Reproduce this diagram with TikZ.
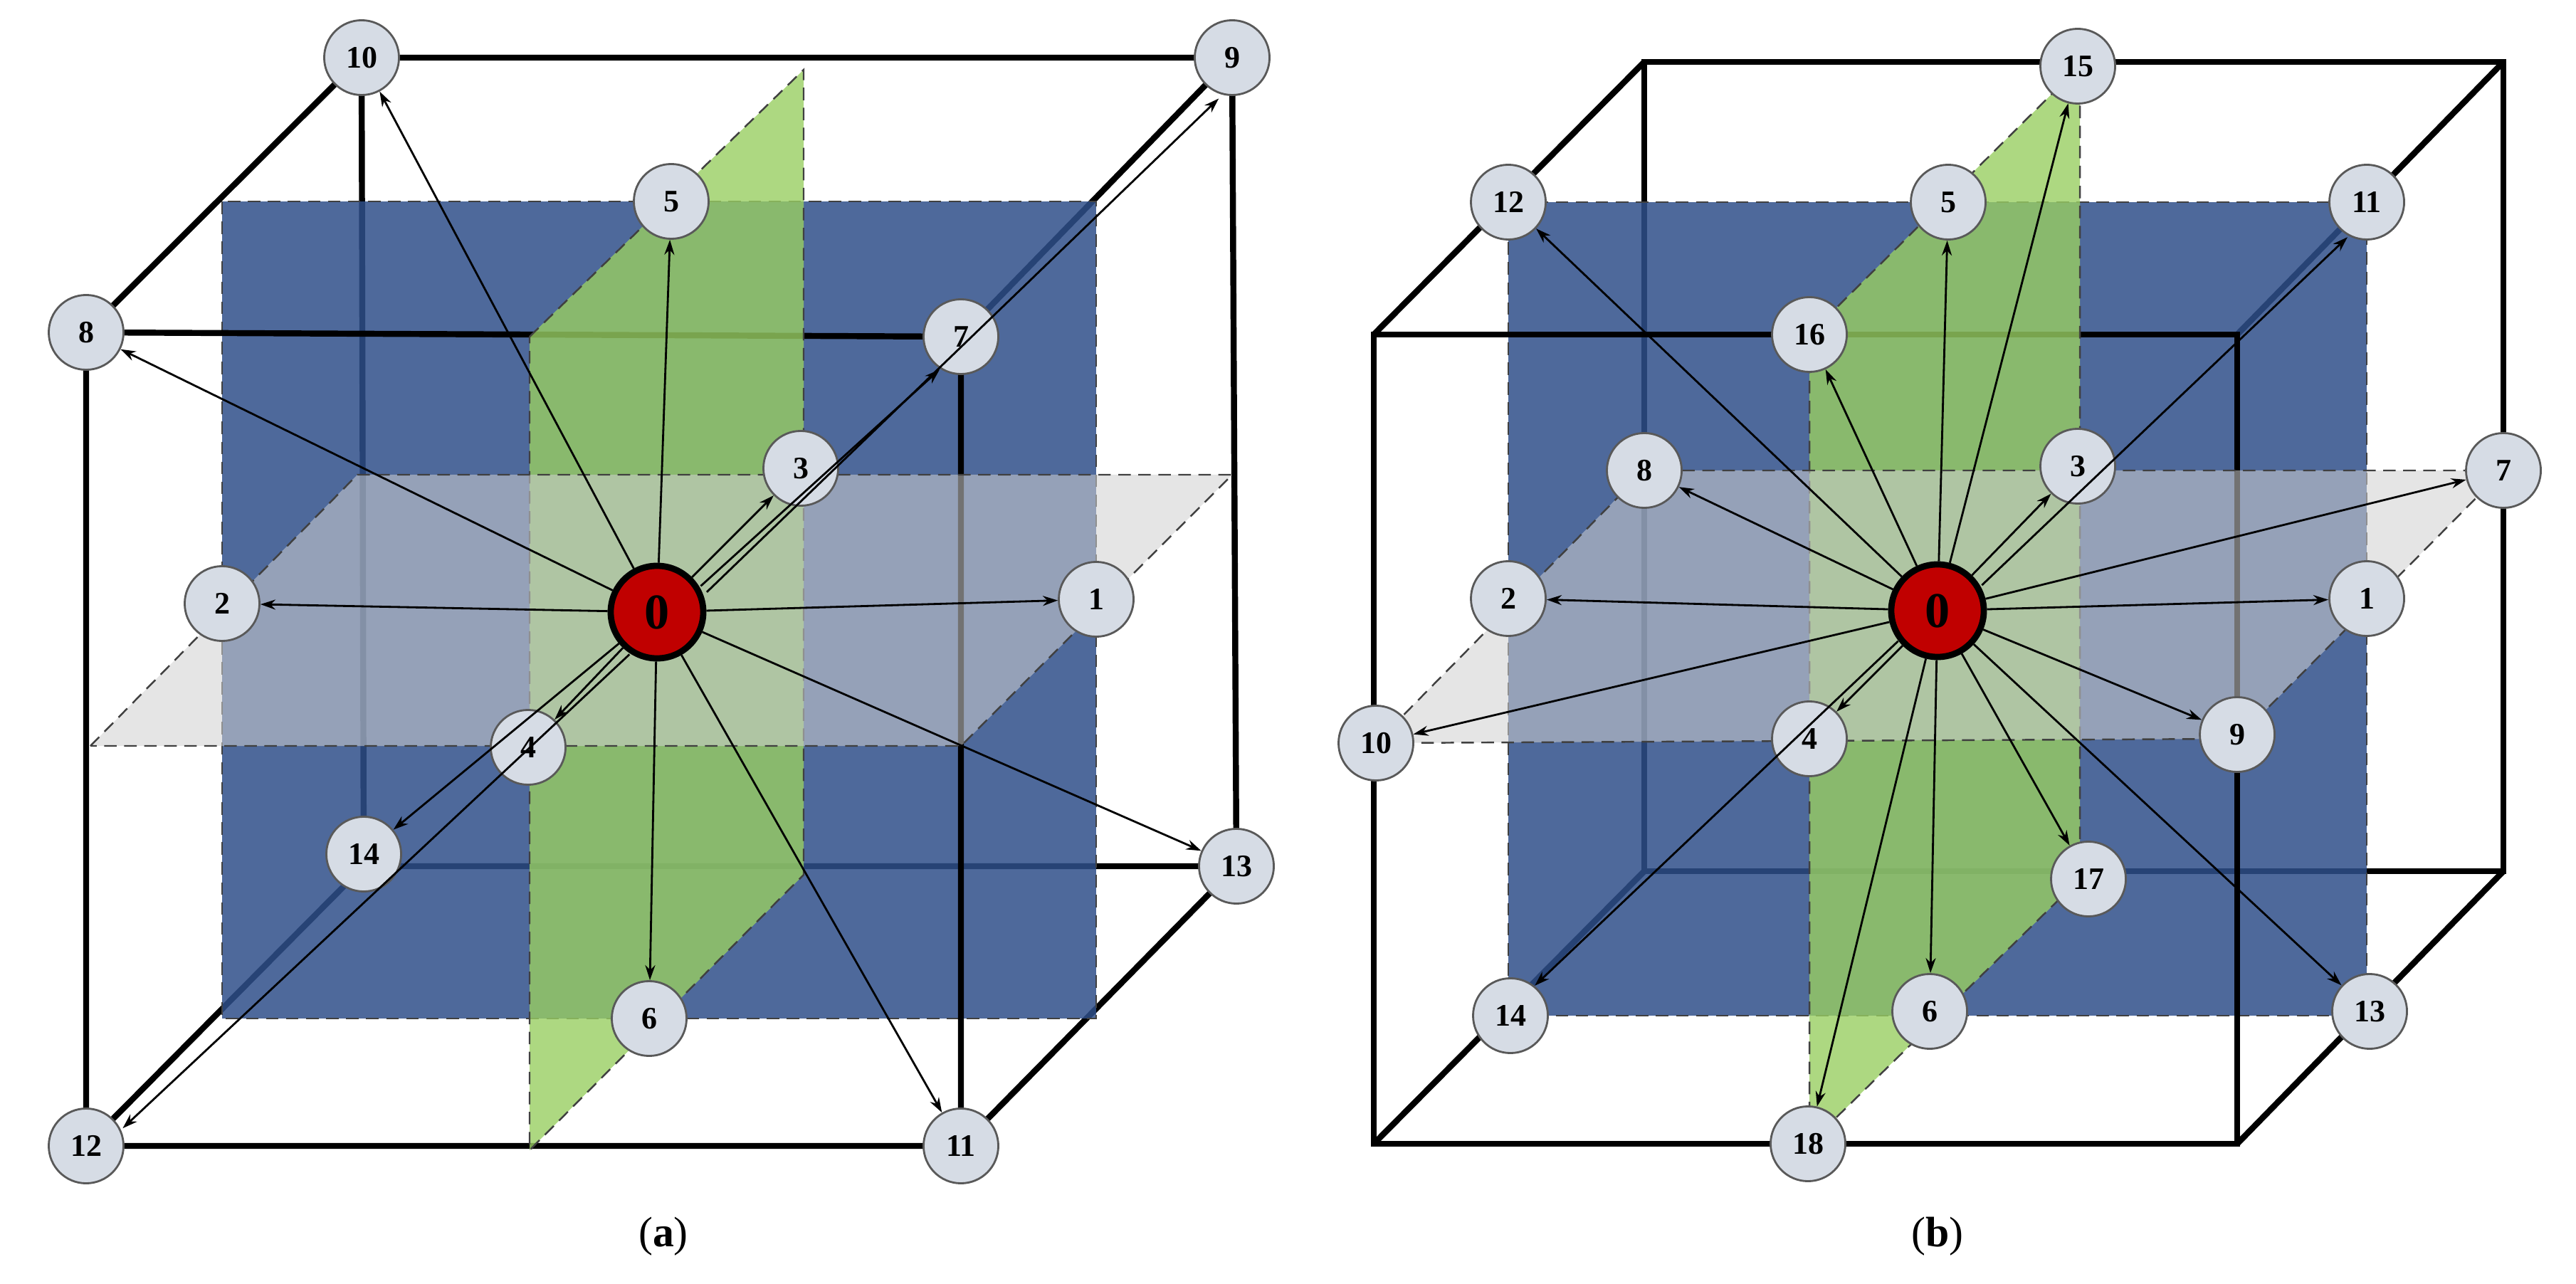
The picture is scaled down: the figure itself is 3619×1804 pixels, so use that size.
\documentclass[tikz,border=0pt]{standalone}
\usepackage{fontspec}
\setmainfont{Liberation Serif}
\usetikzlibrary{arrows.meta}
\definecolor{nodefill}{HTML}{D6DCE5}
\definecolor{bluep}{HTML}{2F4F8A}
\definecolor{greenp}{HTML}{98CE62}
\definecolor{greyp}{HTML}{D0D0D0}
\definecolor{redn}{HTML}{C00000}
\tikzset{
  pt/.style={circle,draw=black!65,line width=0.8pt,fill=nodefill,minimum size=1.05cm,inner sep=0pt,font=\fontsize{12.5}{14}\selectfont\bfseries},
  ctr/.style={circle,draw=black,line width=2.5pt,fill=redn,minimum size=1.3cm,inner sep=0pt,font=\fontsize{20}{22}\selectfont\bfseries},
  edge/.style={line width=2.4pt,black},
  arr/.style={line width=0.8pt,-{Stealth[length=6pt,width=4pt]}},
  plane/.style={dash pattern=on 5pt off 3pt,line width=0.7pt,draw=black!75},
  captxt/.style={font=\fontsize{17}{20}\selectfont}
}
\begin{document}
\begin{tikzpicture}[x=0.01cm,y=-0.01cm]
\useasboundingbox (0,0) rectangle (3619,1804);
% ================= (a)
\coordinate (aB1) at (508,81); \coordinate (aB2) at (1731,81);
\coordinate (aB3) at (1737,1217); \coordinate (aB4) at (511,1217);
\coordinate (aF1) at (121,467); \coordinate (aF2) at (1350,473);
\coordinate (aF3) at (1350,1610); \coordinate (aF4) at (121,1610);
\draw[edge] (aB1) -- (aB2) -- (aB3) -- (aB4) -- cycle;
\draw[edge] (aB1) -- (aF1); \draw[edge] (aB2) -- (aF2);
\draw[edge] (aB3) -- (aF3); \draw[edge] (aB4) -- (aF4);
\fill[bluep,opacity=0.85] (312,283) rectangle (1540,1431);
\draw[plane] (312,283) rectangle (1540,1431);
\draw[edge] (aF1) -- (aF2) -- (aF3) -- (aF4) -- cycle;
\fill[greenp,opacity=0.8] (744,473) -- (1129,98) -- (1129,1229) -- (744,1616) -- cycle;
\draw[plane] (744,473) -- (1129,98) -- (1129,1229) -- (744,1616) -- cycle;
\fill[greyp,opacity=0.55] (127,1048) -- (502,667) -- (1731,667) -- (1350,1048) -- cycle;
\draw[plane] (127,1048) -- (502,667) -- (1731,667) -- (1350,1048) -- cycle;
\node[ctr] (a0) at (923,860) {0};
\node[pt] (a1) at (1540,842) {1};
\node[pt] (a2) at (312,848) {2};
\node[pt] (a3) at (1125,658) {3};
\node[pt] (a4) at (742,1050) {4};
\node[pt] (a5) at (943,283) {5};
\node[pt] (a6) at (912,1431) {6};
\node[pt] (a7) at (1350,473) {7};
\node[pt] (a8) at (121,467) {8};
\node[pt] (a9) at (1731,81) {9};
\node[pt] (a10) at (508,81) {10};
\node[pt] (a11) at (1350,1610) {11};
\node[pt] (a12) at (121,1610) {12};
\node[pt] (a13) at (1737,1217) {13};
\node[pt] (a14) at (511,1200) {14};
\foreach \n in {1,2,3,4,5,6,8,10,11,13} \draw[arr] (a0) -- (a\n);
\draw[arr,transform canvas={shift={(0.1cm,-0.1cm)}}] (a0) -- (a7);
\draw[arr,transform canvas={shift={(0.2cm,-0.2cm)}}] (a0) -- (a9);
\draw[arr] (a0) -- (a14);
\draw[arr,transform canvas={shift={(0.12cm,-0.12cm)}}] (a0) -- (a12);
\node[captxt] (capa) at (932,1737) {(\textbf{a})};
% ================= (b)
\coordinate (bF1) at (1930,470); \coordinate (bF2) at (3143,470);
\coordinate (bF3) at (3143,1607); \coordinate (bF4) at (1930,1607);
\coordinate (bB1) at (2310,87); \coordinate (bB2) at (3517,87);
\coordinate (bB3) at (3517,1224); \coordinate (bB4) at (2310,1224);
\draw[edge] (bB1) -- (bB2) -- (bB3) -- (bB4) -- cycle;
\draw[edge] (bB1) -- (bF1); \draw[edge] (bB2) -- (bF2);
\draw[edge] (bB3) -- (bF3); \draw[edge] (bB4) -- (bF4);
\fill[bluep,opacity=0.85] (2119,284) rectangle (3325,1427);
\draw[plane] (2119,284) rectangle (3325,1427);
\draw[edge] (bF1) -- (bF2) -- (bF3) -- (bF4) -- cycle;
\fill[greenp,opacity=0.8] (2542,470) -- (2922,93) -- (2922,1235) -- (2542,1607) -- cycle;
\draw[plane] (2542,470) -- (2922,93) -- (2922,1235) -- (2542,1607) -- cycle;
\fill[greyp,opacity=0.55] (1933,1044) -- (2310,661) -- (3517,661) -- (3143,1038) -- cycle;
\draw[plane] (1933,1044) -- (2310,661) -- (3517,661) -- (3143,1038) -- cycle;
\node[ctr] (b0) at (2722,858) {0};
\node[pt] (b1) at (3325,841) {1};
\node[pt] (b2) at (2119,841) {2};
\node[pt] (b3) at (2919,655) {3};
\node[pt] (b4) at (2542,1038) {4};
\node[pt] (b5) at (2737,284) {5};
\node[pt] (b6) at (2711,1421) {6};
\node[pt] (b7) at (3517,661) {7};
\node[pt] (b8) at (2310,661) {8};
\node[pt] (b9) at (3143,1032) {9};
\node[pt] (b10) at (1933,1044) {10};
\node[pt] (b11) at (3325,284) {11};
\node[pt] (b12) at (2119,284) {12};
\node[pt] (b13) at (3329,1421) {13};
\node[pt] (b14) at (2122,1427) {14};
\node[pt] (b15) at (2919,93) {15};
\node[pt] (b16) at (2542,470) {16};
\node[pt] (b17) at (2934,1235) {17};
\node[pt] (b18) at (2540,1607) {18};
\foreach \n in {1,2,3,4,5,6,7,8,9,10,12,13,15,16,17,18} \draw[arr] (b0) -- (b\n);
\draw[arr,transform canvas={shift={(0.12cm,-0.12cm)}}] (b0) -- (b11);
\draw[arr,transform canvas={shift={(-0.05cm,0.05cm)}}] (b0) -- (b14);
\node[captxt] (capb) at (2722,1737) {(\textbf{b})};
\end{tikzpicture}
\end{document}
